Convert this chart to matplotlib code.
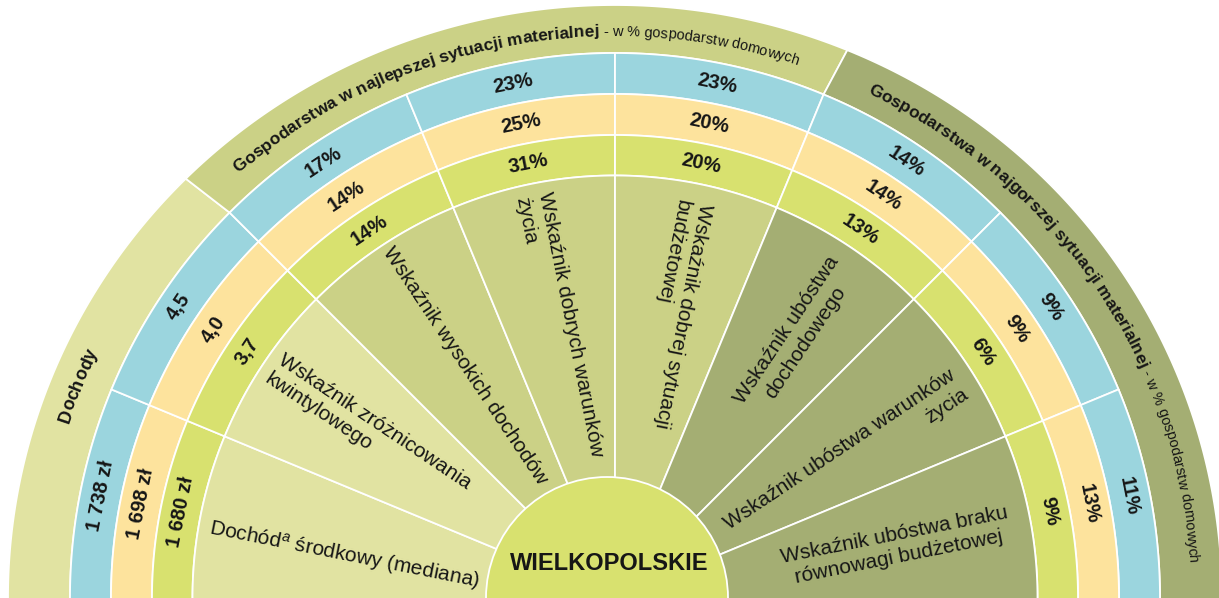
import numpy as np
import matplotlib
matplotlib.use("Agg")
import matplotlib.pyplot as plt
from matplotlib.patches import Polygon, Circle
from matplotlib.font_manager import FontProperties, findfont, get_font

plt.rcParams['font.family'] = ['Liberation Sans', 'DejaVu Sans']
plt.rcParams['mathtext.fontset'] = 'custom'
plt.rcParams['mathtext.rm'] = 'Liberation Sans'
plt.rcParams['mathtext.it'] = 'Liberation Sans:italic'
plt.rcParams['mathtext.bf'] = 'Liberation Sans:bold'

# ---------------- data ----------------
region = "WIELKOPOLSKIE"
indicators = [
    "Dochód$^{a}$ środkowy (mediana)",
    "Wskaźnik zróżnicowania\nkwintylowego",
    "Wskaźnik wysokich dochodów",
    "Wskaźnik dobrych warunków\nżycia",
    "Wskaźnik dobrej sytuacji\nbudżetowej",
    "Wskaźnik ubóstwa\ndochodowego",
    "Wskaźnik ubóstwa warunków\nżycia",
    "Wskaźnik ubóstwa braku\nrównowagi budżetowej",
]
outer_ring = ["1 738 zł", "4,5", "17%", "23%", "23%", "14%", "9%", "11%"]
middle_ring = ["1 698 zł", "4,0", "14%", "25%", "20%", "14%", "9%", "13%"]
inner_ring = ["1 680 zł", "3,7", "14%", "31%", "20%", "13%", "6%", "9%"]
groups = ["Dochody",
          "Gospodarstwa w najlepszej sytuacji materialnej",
          "Gospodarstwa w najgorszej sytuacji materialnej"]
group_sizes = [2, 3, 3]
group_note = " - w % gospodarstw domowych"

# ---------------- style ----------------
W, H, DPI = 1219, 598, 100
CX, CY = 615.0, 0.0
CORE_X, CORE_R = 607.0, 121.0
R_IN, R_G, R_O, R_B = 422.5, 463.0, 504.0, 545.0
R_OUT_X, R_OUT_Y = 607.0, 593.0
TXT_RX, TXT_RY = 575.0, 562.0

C_BLUE = "#9bd5de"
C_ORANGE = "#fde39d"
C_GREEN = "#d8e16f"
C_LIGHT = "#e1e3a2"
C_MED = "#cbd186"
C_DARK = "#a4ae73"
group_colors = [C_LIGHT, C_MED, C_DARK]
TXT = "#161616"

fig = plt.figure(figsize=(W / DPI, H / DPI), dpi=DPI)
ax = fig.add_axes([0, 0, 1, 1])
ax.set_xlim(0, W)
ax.set_ylim(0, H)
ax.axis("off")

n = len(indicators)
step = 180.0 / n
edges = [180 - step * k for k in range(n + 1)]


def ext(a):
    # extend the outermost edges below the horizon so no edge line shows at bottom
    if a >= 179.99:
        return 184.0
    if a <= 0.01:
        return -4.0
    return a


def ring_poly(r_in, r_out, a0, a1, color, rxo=None, ryo=None, zorder=1):
    a0, a1 = ext(a0), ext(a1)
    t = np.radians(np.linspace(a0, a1, 120))
    rxo = r_out if rxo is None else rxo
    ryo = r_out if ryo is None else ryo
    xo = CX + rxo * np.cos(t)
    yo = CY + ryo * np.sin(t)
    xi = CX + r_in * np.cos(t[::-1])
    yi = CY + r_in * np.sin(t[::-1])
    pts = np.column_stack([np.r_[xo, xi], np.r_[yo, yi]])
    ax.add_patch(Polygon(pts, closed=True, facecolor=color, edgecolor="white",
                         linewidth=1.3, zorder=zorder))


# outer band (group titles)
k = 0
for g, size, col in zip(groups, group_sizes, group_colors):
    ring_poly(R_B, None, edges[k], edges[k + size], col, R_OUT_X, R_OUT_Y)
    k += size

# rings
for i in range(n):
    ring_poly(R_O, R_B, edges[i], edges[i + 1], C_BLUE)
    ring_poly(R_G, R_O, edges[i], edges[i + 1], C_ORANGE)
    ring_poly(R_IN, R_G, edges[i], edges[i + 1], C_GREEN)

# inner sectors
sector_group = []
for gi, size in enumerate(group_sizes):
    sector_group += [gi] * size
for i in range(n):
    ring_poly(60, R_IN, edges[i], edges[i + 1], group_colors[sector_group[i]])

ax.add_patch(Circle((CORE_X, CY), CORE_R, facecolor=C_GREEN, edgecolor="white",
                    linewidth=1.3, zorder=3))
ax.text(609, H - 564, region, ha="center", va="center", fontsize=17,
        fontweight="bold", color=TXT, zorder=4)

# ring values
mids = [(edges[i] + edges[i + 1]) / 2 for i in range(n)]
for vals, r in [(outer_ring, (R_O + R_B) / 2), (middle_ring, (R_G + R_O) / 2),
                (inner_ring, (R_IN + R_G) / 2)]:
    for v, a in zip(vals, mids):
        t = np.radians(a)
        ax.text(CX + r * np.cos(t), CY + r * np.sin(t), v, rotation=a - 90,
                rotation_mode="anchor", ha="center", va="center", fontsize=14.5,
                fontweight="bold", color=TXT, zorder=5)

# indicator labels (image-pixel centres)
label_pos = [(344, 555), (368, 431), (465, 366), (559, 327), (672, 314),
             (796, 336), (846, 459), (897, 546)]
label_align = ["left", "left", "left", "left", "left", "center", "right", "center"]
for i, (lab, (px, py), al) in enumerate(zip(indicators, label_pos, label_align)):
    a = mids[i]
    rot = a - 180 if a > 70 else a
    ax.text(px, H - py, lab, rotation=rot, rotation_mode="anchor", ha="center",
            va="center", multialignment=al, fontsize=15, color=TXT,
            linespacing=1.28, zorder=5)


# curved text along the outer band
def curved(parts, theta_c):
    chars = []
    for s, fp in parts:
        font = get_font(findfont(fp))
        font.set_size(fp.get_size_in_points(), DPI)
        for ch in s:
            g = font.load_char(ord(ch))
            chars.append((ch, fp, g.linearHoriAdvance / 65536.0))

    def dsdt(th):
        return np.hypot(TXT_RX * np.sin(th), TXT_RY * np.cos(th))

    total = sum(c[2] for c in chars)
    th = np.radians(theta_c) + total / 2 / dsdt(np.radians(theta_c))
    for ch, fp, adv in chars:
        tc = th - adv / 2 / dsdt(th)
        x = CX + TXT_RX * np.cos(tc)
        y = CY + TXT_RY * np.sin(tc)
        if ch != " ":
            ax.text(x, y, ch, fontproperties=fp, rotation=np.degrees(tc) - 90,
                    rotation_mode="anchor", ha="center", va="baseline",
                    color=TXT, zorder=6)
        th -= adv / dsdt(th)


fp_b = FontProperties(family="Liberation Sans", weight="bold", size=12.5)
fp_b2 = FontProperties(family="Liberation Sans", weight="bold", size=13)
fp_r = FontProperties(family="Liberation Sans", size=10.5)

k = 0
for gi, (g, size) in enumerate(zip(groups, group_sizes)):
    centre = (edges[k] + edges[k + size]) / 2
    if gi == 0:
        curved([(g, fp_b2)], centre + 0.5)
    else:
        curved([(g, fp_b), (group_note, fp_r)], centre)
    k += size

fig.savefig("out.png", dpi=DPI)
